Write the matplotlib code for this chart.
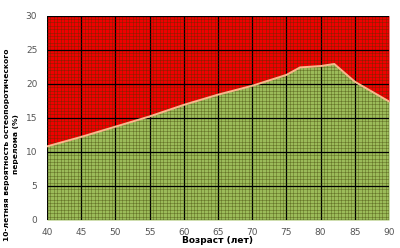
import numpy as np
import matplotlib
matplotlib.use("Agg")
import matplotlib.pyplot as plt
from matplotlib.ticker import MultipleLocator

# Данные: возраст и граница риска (%)
ages = [40, 45, 50, 55, 60, 65, 70, 75, 77, 80, 82, 85, 90]
risk = [10.8, 12.2, 13.7, 15.2, 16.9, 18.4, 19.7, 21.3, 22.4, 22.6, 22.9, 20.3, 17.4]

x_ticks = [40, 45, 50, 55, 60, 65, 70, 75, 80, 85, 90]
y_ticks = [0, 5, 10, 15, 20, 25, 30]

plt.rcParams['font.family'] = ['DejaVu Sans']

fig = plt.figure(figsize=(4, 2.48), dpi=100)
ax = fig.add_axes([0.1175, 0.113, 0.855, 0.824])

ax.fill_between(ages, 0, risk, color='#9BBB59', linewidth=0, zorder=1)
ax.fill_between(ages, risk, 30, color='#F00000', linewidth=0, zorder=1)
ax.plot(ages, risk, color='#F7B98C', linewidth=1.4, zorder=4)

ax.set_xlim(40, 90)
ax.set_ylim(0, 30)
ax.set_xticks(x_ticks)
ax.set_yticks(y_ticks)
ax.xaxis.set_minor_locator(MultipleLocator(0.5))
ax.yaxis.set_minor_locator(MultipleLocator(0.5))

ax.grid(which='minor', color='#3a3a00', linewidth=0.45, alpha=0.5, zorder=2)
ax.grid(which='major', color='black', linewidth=0.9, zorder=3)
ax.set_axisbelow(False)

for s in ax.spines.values():
    s.set_visible(False)
ax.tick_params(which='both', length=0)
ax.tick_params(axis='x', labelsize=6.5, labelcolor='#555555', pad=6)
ax.tick_params(axis='y', labelsize=6.5, labelcolor='#555555', pad=7)

ax.set_xlabel("Возраст (лет)", fontsize=6.5, fontweight='bold', labelpad=-1)
ax.set_ylabel("10-летняя вероятность остеопоротического\nперелома (%)",
              fontsize=5.4, fontweight='bold', linespacing=1.5)
ax.yaxis.set_label_coords(-0.083, 0.37)

plt.savefig("out.png", dpi=100)
plt.close()
